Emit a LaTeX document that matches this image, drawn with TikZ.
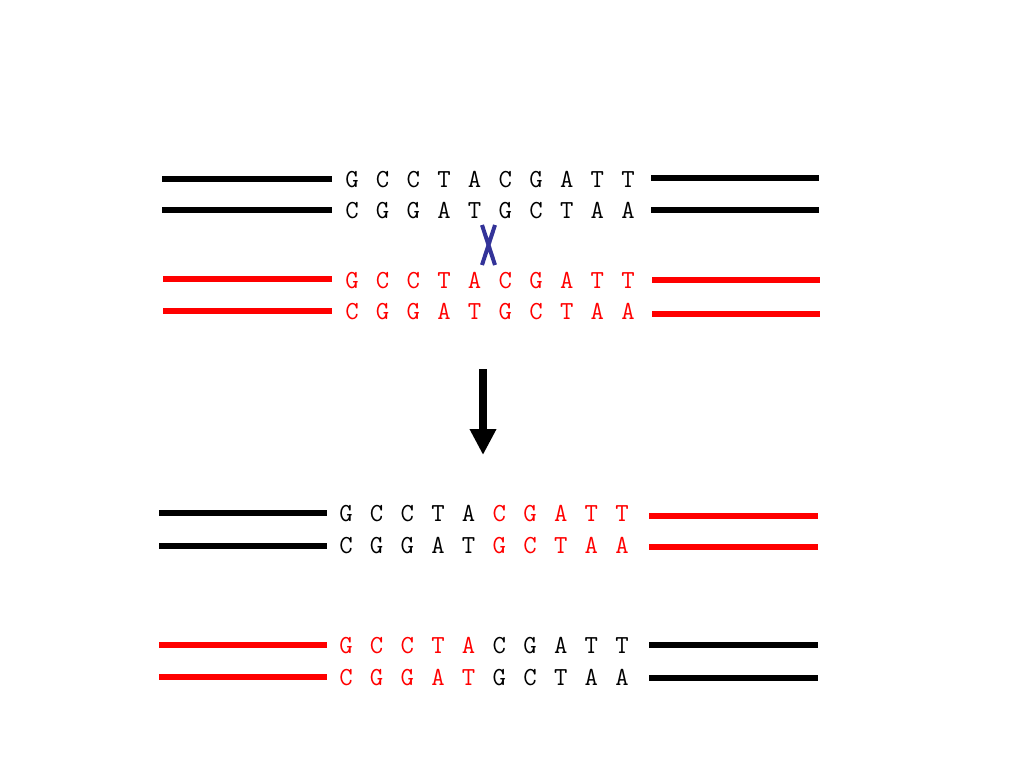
\documentclass[tikz,border=0pt]{standalone}
\usepackage{fontspec}
\usepackage{tikz}
\usetikzlibrary{arrows.meta}
\definecolor{xblue}{RGB}{51,51,153}
\tikzset{
  strand/.style={line width=6pt},
  base/.style={font=\fontsize{26}{30}\selectfont\ttfamily, inner sep=0pt, anchor=base},
}
\begin{document}
\begin{tikzpicture}[x=1pt,y=-1pt]
		\useasboundingbox (0,0) rectangle (1024,768);
		
		% strands on both sides of the sequences
		\foreach \xa/\xb/\y/\col in {162/332/178.5/black, 162/332/210/black, 163/332/279/red, 163/332/311/red,
			651/819/178/black, 651/819/210/black, 652/820/280/red, 652/820/314/red,
			159/327/513/black, 159/327/546/black, 159/327/645/red, 159/327/677/red,
			649/818/516/red, 649/818/547/red, 649/818/645/black, 649/818/678/black}
			\draw[strand, color=\col] (\xa, \y) -- (\xb, \y);
		
		% bases: row, baseline, first x, colour left half, colour right half
		\foreach \r/\y/\x/\cl/\cr/\seq in {
			1/187/352/black/black/{G,C,C,T,A,C,G,A,T,T},
			2/218/352/black/black/{C,G,G,A,T,G,C,T,A,A},
			3/288/352/red/red/{G,C,C,T,A,C,G,A,T,T},
			4/319/352/red/red/{C,G,G,A,T,G,C,T,A,A},
			5/521/346/black/red/{G,C,C,T,A,C,G,A,T,T},
			6/553/346/black/red/{C,G,G,A,T,G,C,T,A,A},
			7/653/346/red/black/{G,C,C,T,A,C,G,A,T,T},
			8/685/346/red/black/{C,G,G,A,T,G,C,T,A,A}}
			\foreach \b [count=\i from 0] in \seq {
				\ifnum\i<5 \edef\bcol{\cl}\else\edef\bcol{\cr}\fi
				\node[base, text=\bcol] (n\r-\i) at (\x+30.67*\i, \y) {\b};
			}
		
		% crossover
		\draw[color=xblue, line width=4pt] (482, 225) -- (495, 265) (495, 225) -- (482, 265);
		
		\coordinate (from) at (483, 369);
		\coordinate (to) at (483, 455);
		\draw[-{Triangle[width=25pt,length=26pt]}, line width=8pt] (from) -- (to);
\end{tikzpicture}
\end{document}
